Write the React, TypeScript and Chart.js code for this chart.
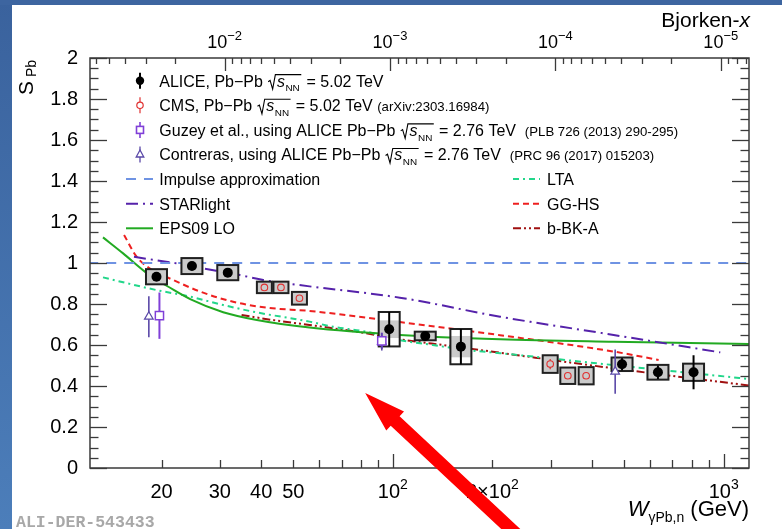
import { useEffect, useRef } from 'react';
import { Chart, registerables } from 'chart.js';

Chart.register(...registerables);

const FONT = '"Liberation Sans", Arial, Helvetica, sans-serif';
const MONO = '"Liberation Mono", "DejaVu Sans Mono", monospace';
const M_JPSI = 3.1; // x = (M / W)^2

const W_MIN = 12.15;
const W_MAX = 1193;
const S_MIN = 0;
const S_MAX = 2;

// ALICE, Pb-Pb 5.02 TeV
const aliceW = [19.3, 24.7, 31.7, 97.5, 125.3, 160.6, 493, 633, 811];
const aliceS = [0.933, 0.985, 0.953, 0.677, 0.644, 0.592, 0.506, 0.467, 0.467];
const aliceStat = [0.02, 0.02, 0.02, 0.084, 0.015, 0.086, 0.03, 0.033, 0.083];
const aliceSystInner = [0.037, 0.039, 0.037, 0.043, 0.021, 0.052, 0.033, 0.036, 0.042];
const aliceSystOuter = [0.037, 0.039, 0.037, 0.084, 0.021, 0.086, 0.033, 0.036, 0.042];

// CMS, Pb-Pb 5.02 TeV
const cmsW = [40.9, 45.9, 52.2, 299, 338, 384];
const cmsS = [0.881, 0.881, 0.828, 0.507, 0.45, 0.45];
const cmsStat = [0.01, 0.01, 0.01, 0.025, 0.01, 0.01];
const cmsSyst = [0.028, 0.028, 0.031, 0.043, 0.04, 0.042];

// Guzey et al.
const guzeyW = [19.7, 92.6];
const guzeyS = [0.743, 0.62];
const guzeyErr = [0.113, 0.04];

// Contreras
const contrerasW = [18.3, 92.6, 470];
const contrerasS = [0.738, 0.616, 0.47];
const contrerasErr = [0.1, 0.043, 0.108];

// Models
const impulseW = [12, 1200];
const impulseS = [1, 1];

const starlightW = [16.5, 22.2, 26.7, 34.5, 40.6, 56, 105, 211, 465, 977];
const starlightS = [1.03, 0.998, 0.974, 0.941, 0.917, 0.886, 0.831, 0.738, 0.649, 0.564];

const eps09W = [13.3, 15.3, 17.8, 19.3, 20.7, 24.4, 30.7, 38.8, 56, 105, 211, 465, 1200];
const eps09S = [1.125, 1.047, 0.958, 0.917, 0.889, 0.824, 0.76, 0.722, 0.685, 0.649, 0.628, 0.616, 0.605];

const ltaW = [13.3, 15.3, 19.3, 24.4, 30.7, 38.8, 56, 66, 83, 105, 132, 167, 211, 465, 1200];
const ltaS = [0.93, 0.906, 0.868, 0.836, 0.795, 0.759, 0.714, 0.689, 0.665, 0.624, 0.6, 0.576, 0.56, 0.502, 0.434];

const gghsW = [15.4, 16.8, 18.4, 21.7, 26.2, 32.9, 41.6, 56, 105, 211, 465, 636];
const gghsS = [1.137, 1.031, 0.974, 0.917, 0.86, 0.811, 0.782, 0.766, 0.712, 0.648, 0.568, 0.527];

const bbkaW = [34.9, 45, 56, 83, 105, 150, 211, 465, 1200];
const bbkaS = [0.746, 0.718, 0.698, 0.657, 0.628, 0.595, 0.562, 0.486, 0.402];

// Axis ticks and labels
const bottomTickW = [20, 30, 40, 50, 60, 70, 80, 90, 100, 200, 300, 400, 500, 600, 700, 800, 900, 1000];
const bottomMajorW = [100, 1000];
const bottomLabelW = [20, 30, 40, 50, 100, 200, 1000];
const bottomLabelBase = ['20', '30', '40', '50', '10', '2\u00d710', '10'];
const bottomLabelSup = ['', '', '', '', '2', '2', '3'];

const topMajorX = [1e-2, 1e-3, 1e-4, 1e-5];
const topLabelBase = ['10', '10', '10', '10'];
const topLabelSup = ['\u22122', '\u22123', '\u22124', '\u22125'];
const topMinorMult = [2, 3, 4, 5, 6, 7, 8, 9];
const topDecades = [-6, -5, -4, -3, -2];

const yMajorStep = 0.2;
const yMinorStep = 0.05;

// Annotation arrow (data coordinates)
const arrowTip = { w: 82.5, s: 0.366 };
const arrowTail = { w: 265.7, s: -0.4 };

const wFromX = (x: number) => M_JPSI / Math.sqrt(x);

const pts = (ws: number[], ss: number[]) => ws.map((w, i) => ({ x: w, y: ss[i] }));

const COL = {
  impulse: '#6f93e3',
  starlight: '#5522aa',
  eps09: '#22aa22',
  lta: '#22d68a',
  gghs: '#ee2020',
  bbka: '#a01010',
  cms: '#e03030',
  guzey: '#8040d8',
  contreras: '#5a48a8',
  axis: '#3a3a3a',
  box: '#cbcbcb',
};

const DASH = {
  impulse: [10, 8],
  starlight: [12, 5, 2, 5],
  eps09: [] as number[],
  lta: [6, 4, 2, 4],
  gghs: [6, 4],
  bbka: [8, 3, 2, 3, 2, 3],
};

type Part = { t?: string; size: number; italic?: boolean; dy?: number; sqrt?: boolean };

function drawSqrtSNN(ctx: CanvasRenderingContext2D, x: number, y: number, s: number, draw: boolean) {
  ctx.font = `italic ${s}px ${FONT}`;
  const sx = x + s * 0.6;
  const sw = ctx.measureText('s').width;
  if (draw) ctx.fillText('s', sx, y);
  const sub = s * 0.62;
  ctx.font = `${sub}px ${FONT}`;
  const nx = sx + sw + 0.5;
  const nw = ctx.measureText('NN').width;
  if (draw) ctx.fillText('NN', nx, y + s * 0.3);
  const end = nx + nw + 1.5;
  if (draw) {
    const top = y - s * 0.74;
    ctx.save();
    ctx.lineWidth = 1.1;
    ctx.strokeStyle = '#000';
    ctx.beginPath();
    ctx.moveTo(x + s * 0.05, y - s * 0.3);
    ctx.lineTo(x + s * 0.17, y - s * 0.38);
    ctx.lineTo(x + s * 0.33, y + s * 0.17);
    ctx.lineTo(x + s * 0.5, top);
    ctx.lineTo(end, top);
    ctx.stroke();
    ctx.restore();
  }
  return end + s * 0.05;
}

function drawParts(ctx: CanvasRenderingContext2D, x: number, y: number, parts: Part[], draw = true) {
  let cx = x;
  for (const p of parts) {
    if (p.sqrt) {
      cx = drawSqrtSNN(ctx, cx, y, p.size, draw);
      continue;
    }
    ctx.font = `${p.italic ? 'italic ' : ''}${p.size}px ${FONT}`;
    if (draw) ctx.fillText(p.t || '', cx, y + (p.dy || 0));
    cx += ctx.measureText(p.t || '').width;
  }
  return cx;
}

function line(ctx: CanvasRenderingContext2D, x1: number, y1: number, x2: number, y2: number) {
  ctx.beginPath();
  ctx.moveTo(x1, y1);
  ctx.lineTo(x2, y2);
  ctx.stroke();
}

const LEG = 16;
const CIT = 13.2;

const legendRows: Part[][] = [
  [{ t: 'ALICE, ', size: LEG }, { t: 'Pb\u2212Pb ', size: LEG }, { sqrt: true, size: LEG }, { t: ' = 5.02 TeV', size: LEG }],
  [{ t: 'CMS, Pb\u2212Pb ', size: LEG }, { sqrt: true, size: LEG }, { t: ' = 5.02 TeV ', size: LEG }, { t: '(arXiv:2303.16984)', size: CIT }],
  [{ t: 'Guzey et al., using ALICE Pb\u2212Pb ', size: LEG }, { sqrt: true, size: LEG }, { t: ' = 2.76 TeV  ', size: LEG }, { t: '(PLB 726 (2013) 290-295)', size: CIT }],
  [{ t: 'Contreras, using ALICE Pb\u2212Pb ', size: LEG }, { sqrt: true, size: LEG }, { t: ' = 2.76 TeV  ', size: LEG }, { t: '(PRC 96 (2017) 015203)', size: CIT }],
  [{ t: 'Impulse approximation', size: LEG }],
  [{ t: 'STARlight', size: LEG }],
  [{ t: 'EPS09 LO', size: LEG }],
];

const rightRows: Part[][] = [[{ t: 'LTA', size: LEG }], [{ t: 'GG-HS', size: LEG }], [{ t: 'b-BK-A', size: LEG }]];

const decorPlugin = {
  id: 'decor',
  beforeDraw(chart: any) {
    const ctx: CanvasRenderingContext2D = chart.ctx;
    const W = chart.width;
    const H = chart.height;
    ctx.save();
    const g = ctx.createLinearGradient(0, 0, 0, H);
    g.addColorStop(0, '#3a629d');
    g.addColorStop(1, '#4c7eba');
    ctx.fillStyle = g;
    ctx.fillRect(0, 0, W, H);
    ctx.fillStyle = '#3d65a0';
    ctx.fillRect(0, 0, W, 5);
    ctx.fillStyle = '#ffffff';
    ctx.fillRect(12, 5, W - 12, H - 5);
    ctx.restore();
  },
  beforeDatasetDraw(chart: any, args: any) {
    const ds = chart.data.datasets[args.index];
    if (ds.label !== 'Contreras') return;
    const ctx: CanvasRenderingContext2D = chart.ctx;
    const xs = chart.scales.x;
    const ys = chart.scales.y;
    ctx.save();
    // ALICE boxes
    aliceW.forEach((w, i) => {
      const cx = xs.getPixelForValue(w);
      const hw = 10.5;
      const s = aliceS[i];
      const oT = ys.getPixelForValue(s + aliceSystOuter[i]);
      const oB = ys.getPixelForValue(s - aliceSystOuter[i]);
      const iT = ys.getPixelForValue(s + aliceSystInner[i]);
      const iB = ys.getPixelForValue(s - aliceSystInner[i]);
      ctx.fillStyle = '#ffffff';
      ctx.fillRect(cx - hw, oT, 2 * hw, oB - oT);
      ctx.fillStyle = COL.box;
      ctx.fillRect(cx - hw, iT, 2 * hw, iB - iT);
      ctx.strokeStyle = '#202020';
      ctx.lineWidth = 2;
      ctx.strokeRect(cx - hw, oT, 2 * hw, oB - oT);
    });
    // CMS boxes
    cmsW.forEach((w, i) => {
      const cx = xs.getPixelForValue(w);
      const hw = 7.5;
      const t = ys.getPixelForValue(cmsS[i] + cmsSyst[i]);
      const b = ys.getPixelForValue(cmsS[i] - cmsSyst[i]);
      ctx.fillStyle = COL.box;
      ctx.fillRect(cx - hw, t, 2 * hw, b - t);
      ctx.strokeStyle = '#202020';
      ctx.lineWidth = 2;
      ctx.strokeRect(cx - hw, t, 2 * hw, b - t);
    });
    // error bars (drawn outside the marker, as in ROOT)
    const bars = (ws: number[], ss: number[], es: number[], color: string, lw: number, gap: number) => {
      ctx.strokeStyle = color;
      ctx.lineWidth = lw;
      ws.forEach((w, i) => {
        const cx = xs.getPixelForValue(w);
        const cy = ys.getPixelForValue(ss[i]);
        const t = ys.getPixelForValue(ss[i] + es[i]);
        const b = ys.getPixelForValue(ss[i] - es[i]);
        if (cy - t > gap) line(ctx, cx, t, cx, cy - gap);
        if (b - cy > gap) line(ctx, cx, cy + gap, cx, b);
      });
    };
    bars(cmsW, cmsS, cmsStat, COL.cms, 1.2, 3.3);
    bars(guzeyW, guzeyS, guzeyErr, COL.guzey, 2, 0);
    bars(contrerasW, contrerasS, contrerasErr, COL.contreras, 1.6, 0);
    bars(aliceW, aliceS, aliceStat, '#000000', 2, 0);
    ctx.restore();
  },
  afterDraw(chart: any) {
    const ctx: CanvasRenderingContext2D = chart.ctx;
    const { left, right, top, bottom } = chart.chartArea;
    const xs = chart.scales.x;
    const xt = chart.scales.xTop;
    const ys = chart.scales.y;
    ctx.save();
    ctx.lineCap = 'butt';
    // frame
    ctx.strokeStyle = COL.axis;
    ctx.lineWidth = 1.5;
    ctx.strokeRect(left, top, right - left, bottom - top);
    // y ticks both sides
    ctx.lineWidth = 1.3;
    const nMinor = Math.round((S_MAX - S_MIN) / yMinorStep);
    for (let k = 0; k <= nMinor; k++) {
      const v = S_MIN + k * yMinorStep;
      const r = v / yMajorStep;
      const major = Math.abs(r - Math.round(r)) < 1e-6;
      const py = Math.round(ys.getPixelForValue(v)) + 0.5;
      const len = major ? 17 : 8.5;
      line(ctx, left, py, left + len, py);
      line(ctx, right, py, right - len, py);
    }
    // bottom ticks
    for (const t of xs.ticks) {
      const px = Math.round(xs.getPixelForValue(t.value)) + 0.5;
      const len = t.major ? 14 : 8;
      line(ctx, px, bottom, px, bottom - len);
    }
    // top ticks
    for (const t of xt.ticks) {
      const px = Math.round(xt.getPixelForValue(t.value)) + 0.5;
      const len = t.major ? 13 : 6;
      line(ctx, px, top, px, top + len);
    }
    ctx.fillStyle = '#000';
    ctx.textAlign = 'left';
    ctx.textBaseline = 'alphabetic';
    // bottom labels
    bottomLabelW.forEach((w, i) => {
      const px = xs.getPixelForValue(w);
      const parts: Part[] = [{ t: bottomLabelBase[i], size: 20 }];
      if (bottomLabelSup[i]) parts.push({ t: bottomLabelSup[i], size: 14, dy: -9 });
      const wid = drawParts(ctx, 0, 0, parts, false);
      drawParts(ctx, px - wid / 2, 498, parts);
    });
    // top labels
    topMajorX.forEach((x, i) => {
      const px = xt.getPixelForValue(wFromX(x));
      const parts: Part[] = [
        { t: topLabelBase[i], size: 18 },
        { t: topLabelSup[i], size: 13, dy: -8 },
      ];
      const wid = drawParts(ctx, 0, 0, parts, false);
      drawParts(ctx, px - wid / 2, 48, parts);
    });
    // axis titles
    {
      const parts: Part[] = [{ t: 'Bjorken-', size: 21 }, { t: 'x', size: 21, italic: true }];
      const wid = drawParts(ctx, 0, 0, parts, false);
      drawParts(ctx, 750 - wid, 27, parts);
    }
    {
      const parts: Part[] = [
        { t: 'W', size: 22, italic: true },
        { t: '\u03b3Pb,n', size: 14, dy: 6 },
        { t: ' (GeV)', size: 22 },
      ];
      const wid = drawParts(ctx, 0, 0, parts, false);
      drawParts(ctx, 749 - wid, 516, parts);
    }
    {
      ctx.save();
      ctx.translate(33, 95);
      ctx.rotate(-Math.PI / 2);
      ctx.font = `21px ${FONT}`;
      ctx.fillText('S', 0, 0);
      const sw = ctx.measureText('S').width;
      ctx.font = `14px ${FONT}`;
      ctx.fillText('Pb', sw + 4, 3);
      ctx.restore();
    }
    // legend
    const base0 = 86.5;
    const step = 24.6;
    const markX = 140;
    const textX = 159.3;
    legendRows.forEach((parts, i) => {
      drawParts(ctx, textX, base0 + i * step, parts);
    });
    const rowC = (i: number) => base0 + i * step - 5.8;
    // ALICE marker
    ctx.strokeStyle = '#000';
    ctx.lineWidth = 2;
    line(ctx, markX, rowC(0) - 8, markX, rowC(0) + 8);
    ctx.fillStyle = '#000';
    ctx.beginPath();
    ctx.arc(markX, rowC(0), 4.2, 0, Math.PI * 2);
    ctx.fill();
    // CMS marker
    ctx.strokeStyle = COL.cms;
    ctx.lineWidth = 1.2;
    line(ctx, markX, rowC(1) - 8, markX, rowC(1) - 3.2);
    line(ctx, markX, rowC(1) + 3.2, markX, rowC(1) + 8);
    ctx.beginPath();
    ctx.arc(markX, rowC(1), 3.2, 0, Math.PI * 2);
    ctx.stroke();
    // Guzey marker
    ctx.strokeStyle = COL.guzey;
    ctx.lineWidth = 1.6;
    line(ctx, markX, rowC(2) - 8, markX, rowC(2) + 8);
    ctx.fillStyle = '#fff';
    ctx.fillRect(markX - 3.5, rowC(2) - 3.5, 7, 7);
    ctx.strokeRect(markX - 3.5, rowC(2) - 3.5, 7, 7);
    // Contreras marker
    ctx.strokeStyle = COL.contreras;
    ctx.lineWidth = 1.3;
    line(ctx, markX, rowC(3) - 8, markX, rowC(3) + 8);
    ctx.beginPath();
    ctx.moveTo(markX, rowC(3) - 4.5);
    ctx.lineTo(markX + 3.8, rowC(3) + 2.5);
    ctx.lineTo(markX - 3.8, rowC(3) + 2.5);
    ctx.closePath();
    ctx.fill();
    ctx.stroke();
    // legend lines
    const legLine = (x1: number, x2: number, y: number, color: string, dash: number[]) => {
      ctx.save();
      ctx.strokeStyle = color;
      ctx.lineWidth = 2;
      ctx.setLineDash(dash);
      line(ctx, x1, y, x2, y);
      ctx.restore();
    };
    legLine(126, 153, rowC(4), COL.impulse, DASH.impulse);
    legLine(126, 153, rowC(5), COL.starlight, DASH.starlight);
    legLine(126, 153, rowC(6), COL.eps09, DASH.eps09);
    ctx.fillStyle = '#000';
    rightRows.forEach((parts, i) => drawParts(ctx, 547, base0 + (i + 4) * step, parts));
    legLine(513, 540, rowC(4), COL.lta, DASH.lta);
    legLine(513, 540, rowC(5), COL.gghs, DASH.gghs);
    legLine(513, 540, rowC(6), COL.bbka, DASH.bbka);
    // ALICE id
    ctx.fillStyle = '#a8a8a8';
    ctx.font = `bold 16.5px ${MONO}`;
    ctx.fillText('ALI-DER-543433', 16, 527);
    // arrow
    const tx = xs.getPixelForValue(arrowTip.w);
    const ty = ys.getPixelForValue(arrowTip.s);
    const lx = xs.getPixelForValue(arrowTail.w);
    const lyy = ys.getPixelForValue(arrowTail.s);
    const dx = lx - tx;
    const dy = lyy - ty;
    const L = Math.hypot(dx, dy);
    const ux = dx / L;
    const uy = dy / L;
    const nx = -uy;
    const ny = ux;
    const hl = 41;
    const hh = 13;
    const sh = 6.5;
    const bx = tx + ux * hl;
    const by = ty + uy * hl;
    ctx.fillStyle = '#ff0000';
    ctx.beginPath();
    ctx.moveTo(tx, ty);
    ctx.lineTo(bx + nx * hh, by + ny * hh);
    ctx.lineTo(bx + nx * sh, by + ny * sh);
    ctx.lineTo(lx + nx * sh, lyy + ny * sh);
    ctx.lineTo(lx - nx * sh, lyy - ny * sh);
    ctx.lineTo(bx - nx * sh, by - ny * sh);
    ctx.lineTo(bx - nx * hh, by - ny * hh);
    ctx.closePath();
    ctx.fill();
    ctx.restore();
  },
};

function modelDataset(label: string, ws: number[], ss: number[], color: string, dash: number[]) {
  return {
    label,
    data: pts(ws, ss),
    borderColor: color,
    backgroundColor: color,
    borderWidth: 2,
    borderDash: dash,
    pointRadius: 0,
    fill: false,
    cubicInterpolationMode: 'monotone' as const,
    order: 10,
  };
}

export default function App() {
  const ref = useRef<HTMLCanvasElement>(null);
  useEffect(() => {
    document.body.style.margin = '0';
    const topTicks: { value: number; major: boolean }[] = [];
    topDecades.forEach((d) => {
      topMinorMult.forEach((m) => topTicks.push({ value: wFromX(m * Math.pow(10, d)), major: false }));
    });
    topMajorX.forEach((x) => topTicks.push({ value: wFromX(x), major: true }));
    const topTicksIn = topTicks.filter((t) => t.value >= W_MIN && t.value <= W_MAX).sort((a, b) => a.value - b.value);

    const chart = new Chart(ref.current as HTMLCanvasElement, {
      type: 'line',
      data: {
        datasets: [
          modelDataset('Impulse approximation', impulseW, impulseS, COL.impulse, DASH.impulse),
          modelDataset('STARlight', starlightW, starlightS, COL.starlight, DASH.starlight),
          modelDataset('EPS09 LO', eps09W, eps09S, COL.eps09, DASH.eps09),
          modelDataset('LTA', ltaW, ltaS, COL.lta, DASH.lta),
          modelDataset('GG-HS', gghsW, gghsS, COL.gghs, DASH.gghs),
          modelDataset('b-BK-A', bbkaW, bbkaS, COL.bbka, DASH.bbka),
          {
            label: 'Contreras',
            data: pts(contrerasW, contrerasS),
            showLine: false,
            pointStyle: 'triangle',
            pointRadius: 5,
            pointBackgroundColor: '#ffffff',
            pointBorderColor: COL.contreras,
            pointBorderWidth: 1.2,
            order: 4,
          },
          {
            label: 'Guzey',
            data: pts(guzeyW, guzeyS),
            showLine: false,
            pointStyle: 'rect',
            pointRadius: 5.8,
            pointBackgroundColor: '#ffffff',
            pointBorderColor: COL.guzey,
            pointBorderWidth: 1.5,
            order: 3,
          },
          {
            label: 'CMS',
            data: pts(cmsW, cmsS),
            showLine: false,
            pointStyle: 'circle',
            pointRadius: 3.3,
            pointBackgroundColor: 'rgba(0,0,0,0)',
            pointBorderColor: COL.cms,
            pointBorderWidth: 1.1,
            order: 2,
          },
          {
            label: 'ALICE',
            data: pts(aliceW, aliceS),
            showLine: false,
            pointStyle: 'circle',
            pointRadius: 5,
            pointBackgroundColor: '#000000',
            pointBorderColor: '#000000',
            pointBorderWidth: 0,
            order: 1,
          },
        ] as any,
      },
      options: {
        responsive: false,
        animation: false,
        devicePixelRatio: 1,
        events: [],
        layout: { padding: { left: 0, right: 33, top: 0, bottom: 0 } },
        plugins: {
          legend: { display: false },
          tooltip: { enabled: false },
          title: { display: false },
        },
        scales: {
          x: {
            type: 'logarithmic',
            position: 'bottom',
            min: W_MIN,
            max: W_MAX,
            grid: { display: false },
            border: { display: false },
            ticks: { display: false },
            afterBuildTicks: (s: any) => {
              s.ticks = bottomTickW.map((v) => ({ value: v, major: bottomMajorW.includes(v) }));
            },
            afterFit: (s: any) => {
              s.height = 61;
            },
          },
          xTop: {
            type: 'logarithmic',
            position: 'top',
            min: W_MIN,
            max: W_MAX,
            grid: { display: false },
            border: { display: false },
            ticks: { display: false },
            afterBuildTicks: (s: any) => {
              s.ticks = topTicksIn.map((t) => ({ ...t }));
            },
            afterFit: (s: any) => {
              s.height = 58;
            },
          },
          y: {
            type: 'linear',
            position: 'left',
            min: S_MIN,
            max: S_MAX,
            grid: { display: false },
            border: { display: false },
            ticks: {
              stepSize: yMajorStep,
              color: '#000',
              padding: 4,
              font: { family: FONT, size: 20 },
              callback: (v: any) => String(Number(Number(v).toFixed(1))),
            },
            afterFit: (s: any) => {
              s.width = 90;
            },
          },
        } as any,
      },
      plugins: [decorPlugin],
    });
    return () => chart.destroy();
  }, []);
  return (
    <div style={{ position: 'absolute', left: 0, top: 0, width: 782, height: 529 }}>
      <canvas ref={ref} width={782} height={529} style={{ display: 'block', width: 782, height: 529 }} />
    </div>
  );
}
